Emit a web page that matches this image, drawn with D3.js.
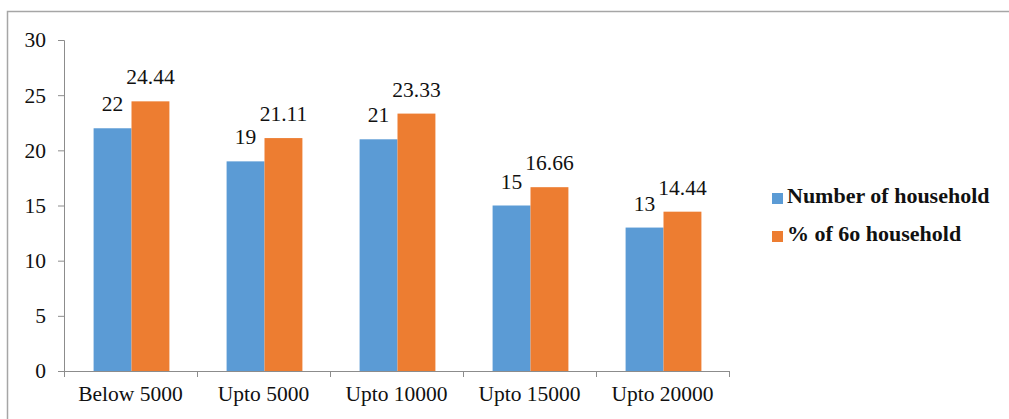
<!DOCTYPE html>
<html>
<head>
<meta charset="utf-8">
<script src="https://cdn.jsdelivr.net/npm/d3@7"></script>
<style>
  html, body { margin: 0; padding: 0; background: #fff; }
  svg { display: block; }
  text { font-family: "Liberation Serif", "Times New Roman", serif; fill: #111; }
</style>
</head>
<body>
<script>
// Income groups and the two measured series
const categories = ["Below 5000", "Upto 5000", "Upto 10000", "Upto 15000", "Upto 20000"];
const households = [22, 19, 21, 15, 13];
const householdPct = [24.44, 21.11, 23.33, 16.66, 14.44];
const seriesNames = ["Number of household", "% of 6o household"];
const yTicks = [0, 5, 10, 15, 20, 25, 30];

const colors = ["#5B9BD5", "#ED7D31"];
const axisColor = "#8c8c8c";
const serif = "'Liberation Serif', 'Times New Roman', serif";

const W = 1009, H = 419;
const plot = { left: 64, right: 729, top: 40, bottom: 371 };

const svg = d3.select("body").append("svg")
  .attr("width", W).attr("height", H);

// chart frame (runs off the right and bottom edges)
svg.append("path")
  .attr("d", `M7.5,${H + 5} V11.5 H${W + 5}`)
  .attr("fill", "none")
  .attr("stroke", "#a6a6a6")
  .attr("stroke-width", 1.5);

const x = d3.scaleBand()
  .domain(categories)
  .range([plot.left, plot.right])
  .paddingInner(0.43)
  .paddingOuter(0.215);

const xSub = d3.scaleBand()
  .domain(d3.range(seriesNames.length))
  .range([0, x.bandwidth()]);

const y = d3.scaleLinear()
  .domain([0, 30])
  .range([plot.bottom, plot.top]);

const rows = categories.map((c, i) => ({ cat: c, values: [households[i], householdPct[i]] }));

// bars
const groups = svg.append("g").selectAll("g")
  .data(rows).join("g")
  .attr("transform", d => `translate(${x(d.cat) + 1},0)`);

groups.selectAll("rect")
  .data(d => d.values.map((v, k) => ({ v, k })))
  .join("rect")
  .attr("x", d => xSub(d.k))
  .attr("width", xSub.bandwidth())
  .attr("y", d => y(d.v))
  .attr("height", d => y(0) - y(d.v))
  .attr("fill", d => colors[d.k]);

// value labels
groups.selectAll("text.val")
  .data(d => d.values.map((v, k) => ({ v, k })))
  .join("text")
  .attr("class", "val")
  .attr("x", d => xSub(d.k) + xSub.bandwidth() / 2)
  .attr("y", d => y(d.v) - 17)
  .attr("text-anchor", "middle")
  .style("font-family", serif)
  .style("font-size", "21.5px")
  .text(d => d.v);

// y axis
const yAxis = svg.append("g")
  .attr("transform", `translate(${plot.left},0)`)
  .call(d3.axisLeft(y).tickValues(yTicks).tickSize(6).tickPadding(12).tickFormat(d3.format("d")));
yAxis.select(".domain").attr("stroke", axisColor).attr("d", `M-6,${plot.top}.5H0.5V${plot.bottom}.5`);
yAxis.selectAll(".tick line").attr("stroke", axisColor);
yAxis.selectAll(".tick text")
  .style("font-size", "21.5px")
  .style("font-family", serif)
  .attr("fill", "#111");

// x axis: ticks sit on the category boundaries
const xAxis = svg.append("g")
  .attr("transform", `translate(0,${plot.bottom})`);
xAxis.append("line")
  .attr("x1", plot.left).attr("x2", plot.right)
  .attr("y1", 0.5).attr("y2", 0.5)
  .attr("stroke", axisColor);
const boundaries = categories.map(c => x(c) - x.step() * x.paddingInner() / 2)
  .concat([plot.right]);
xAxis.selectAll("line.b")
  .data(boundaries).join("line")
  .attr("class", "b")
  .attr("x1", d => Math.round(d) + 0.5).attr("x2", d => Math.round(d) + 0.5)
  .attr("y1", 0).attr("y2", 6)
  .attr("stroke", axisColor);
xAxis.selectAll("text")
  .data(categories).join("text")
  .attr("x", d => x(d) + x.bandwidth() / 2)
  .attr("y", 30)
  .attr("text-anchor", "middle")
  .style("font-family", serif)
  .style("font-size", "21.5px")
  .text(d => d);

// legend
const legend = svg.append("g").attr("transform", "translate(772,193)");
const items = legend.selectAll("g")
  .data(seriesNames).join("g")
  .attr("transform", (d, i) => `translate(0,${i * 38})`);
items.append("rect")
  .attr("width", 11).attr("height", 11)
  .attr("fill", (d, i) => colors[i]);
items.append("text")
  .attr("x", 15).attr("y", 9.5)
  .style("font-family", serif)
  .style("font-size", "22px")
  .style("font-weight", "bold")
  .text(d => d);
</script>
</body>
</html>
